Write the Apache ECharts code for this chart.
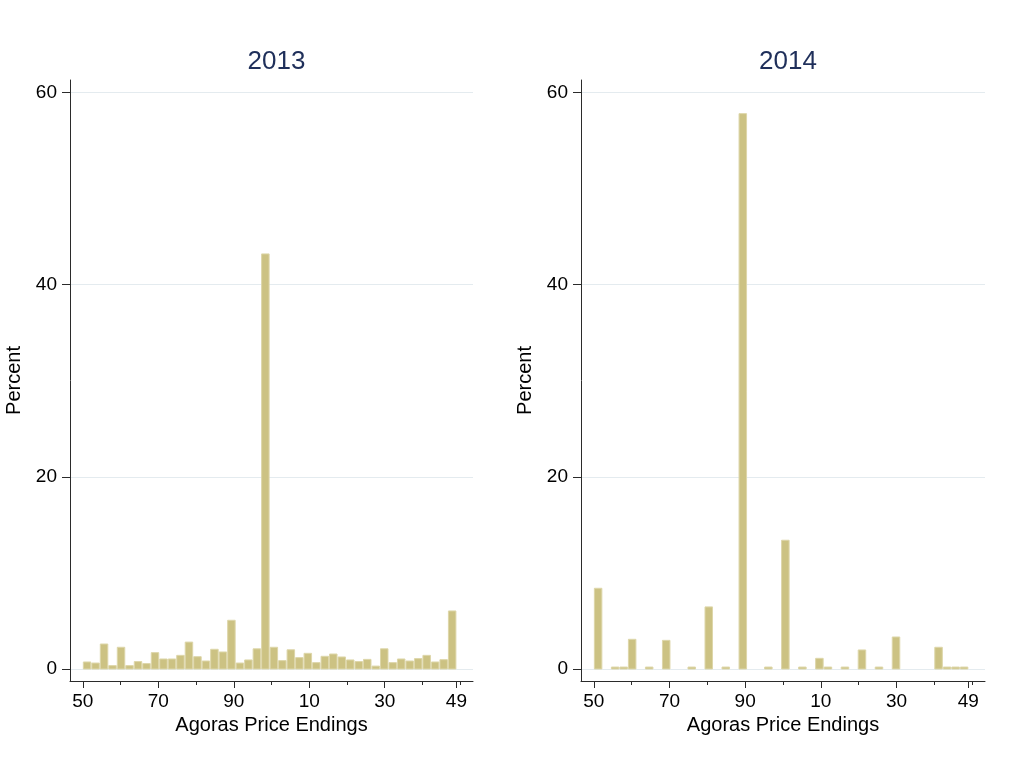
<!DOCTYPE html>
<html>
<head>
<meta charset="utf-8">
<script src="https://cdn.jsdelivr.net/npm/echarts@6/dist/echarts.min.js"></script>
<style>
  html, body { margin: 0; padding: 0; background: #ffffff; }
  #chart { width: 1021px; height: 761px; }
</style>
</head>
<body>
<div id="chart"></div>
<script>
// Price endings run 50..99 then 00..49; x is the offset from 50 (0..99).
const panelTitles = ['2013', '2014'];
const binCount = 44;
const endingSpan = 99;

// Percent of prices per histogram bin (44 equal bins across the endings)
const pct2013 = [0.73, 0.62, 2.6, 0.35, 2.26, 0.35, 0.77, 0.56, 1.7, 1.04, 1.04,
  1.42, 2.8, 1.28, 0.83, 2.05, 1.77, 5.07, 0.62, 0.94, 2.1, 43.2, 2.26, 0.87,
  2.0, 1.18, 1.63, 0.66, 1.32, 1.56, 1.25, 0.94, 0.77, 1.0, 0.3, 2.1, 0.66,
  1.04, 0.83, 1.08, 1.42, 0.73, 0.97, 6.04];
const pct2014 = [8.4, 0, 0.2, 0.2, 3.09, 0, 0.2, 0, 2.98, 0, 0, 0.2, 0, 6.46,
  0, 0.2, 0, 57.8, 0, 0, 0.2, 0, 13.4, 0, 0.2, 0, 1.11, 0.2, 0, 0.2, 0, 1.98,
  0, 0.2, 0, 3.33, 0, 0, 0, 0, 2.26, 0.2, 0.2, 0.2];

// Axis ticks (offsets from 50) and their printed endings
const majorTicks = [0, 20, 40, 60, 80, 99];
const minorTicks = [10, 30, 50, 70, 90, 100];
const yTicks = [0, 20, 40, 60];
const xTitle = 'Agoras Price Endings';
const yTitle = 'Percent';

const binWidth = endingSpan / binCount;
function toBins(values) {
  const out = [];
  values.forEach(function (v, k) {
    if (v > 0) out.push([k * binWidth, (k + 1) * binWidth, v]);
  });
  return out;
}

const font = 'Liberation Sans, Arial, Helvetica, sans-serif';
const axisColor = '#2b2b2b';
const barFill = '#ccc283';
const barEdge = '#ddd6a9';

const grids = [
  { left: 70, top: 80, width: 403, height: 601 },
  { left: 581, top: 80, width: 404, height: 601 }
];

function renderBin(params, api) {
  const a = api.coord([api.value(0), api.value(2)]);
  const b = api.coord([api.value(1), 0]);
  return {
    type: 'rect',
    shape: { x: a[0] + 0.5, y: a[1], width: b[0] - a[0] - 1, height: b[1] - a[1] },
    style: { fill: barFill, stroke: barEdge, lineWidth: 1 }
  };
}

const xAxes = [];
const yAxes = [];
const series = [];
const titles = [];
[pct2013, pct2014].forEach(function (vals, i) {
  const g = grids[i];
  titles.push({
    text: panelTitles[i],
    left: g.left + g.width / 2,
    top: 44,
    textAlign: 'center',
    textStyle: { fontFamily: font, fontSize: 26, fontWeight: 'normal', color: '#1f2f5a' }
  });
  // main x axis: line, long ticks and labels
  xAxes.push({
    type: 'value', gridIndex: i, min: -3.4, max: 103.4, position: 'bottom',
    name: xTitle, nameLocation: 'middle', nameGap: 31,
    nameTextStyle: { fontFamily: font, fontSize: 20, color: '#000' },
    axisLine: { show: true, onZero: false, lineStyle: { color: axisColor, width: 1 } },
    axisTick: { show: true, length: 7, customValues: majorTicks, lineStyle: { color: axisColor } },
    axisLabel: {
      show: true, customValues: majorTicks, margin: 11,
      fontFamily: font, fontSize: 19, color: '#000',
      formatter: function (v) { return String((Math.round(v) + 50) % 100); }
    },
    splitLine: { show: false }
  });
  // companion axis carrying the short minor ticks
  xAxes.push({
    type: 'value', gridIndex: i, min: -3.4, max: 103.4, position: 'bottom',
    axisLine: { show: false, onZero: false },
    axisTick: { show: true, length: 4, customValues: minorTicks, lineStyle: { color: axisColor } },
    axisLabel: { show: false },
    splitLine: { show: false }
  });
  yAxes.push({
    type: 'value', gridIndex: i, min: -1.25, max: 61.3,
    name: yTitle, nameLocation: 'middle', nameGap: 46, nameRotate: 90,
    nameTextStyle: { fontFamily: font, fontSize: 20, color: '#000' },
    axisLine: { show: true, onZero: false, lineStyle: { color: axisColor, width: 1 } },
    axisTick: { show: true, length: 8, customValues: yTicks, lineStyle: { color: axisColor } },
    axisLabel: { show: true, customValues: yTicks, margin: 13, fontFamily: font, fontSize: 19, color: '#000' },
    splitLine: { show: true, lineStyle: { color: '#e4ebef', width: 1 } }
  });
  series.push({
    type: 'custom',
    xAxisIndex: i * 2,
    yAxisIndex: i,
    renderItem: renderBin,
    encode: { x: [0, 1], y: 2 },
    data: toBins(vals),
    silent: true
  });
});

const chart = echarts.init(document.getElementById('chart'), null, { renderer: 'canvas' });
chart.setOption({
  backgroundColor: '#ffffff',
  animation: false,
  title: titles,
  grid: grids,
  xAxis: xAxes,
  yAxis: yAxes,
  series: series
});
</script>
</body>
</html>
